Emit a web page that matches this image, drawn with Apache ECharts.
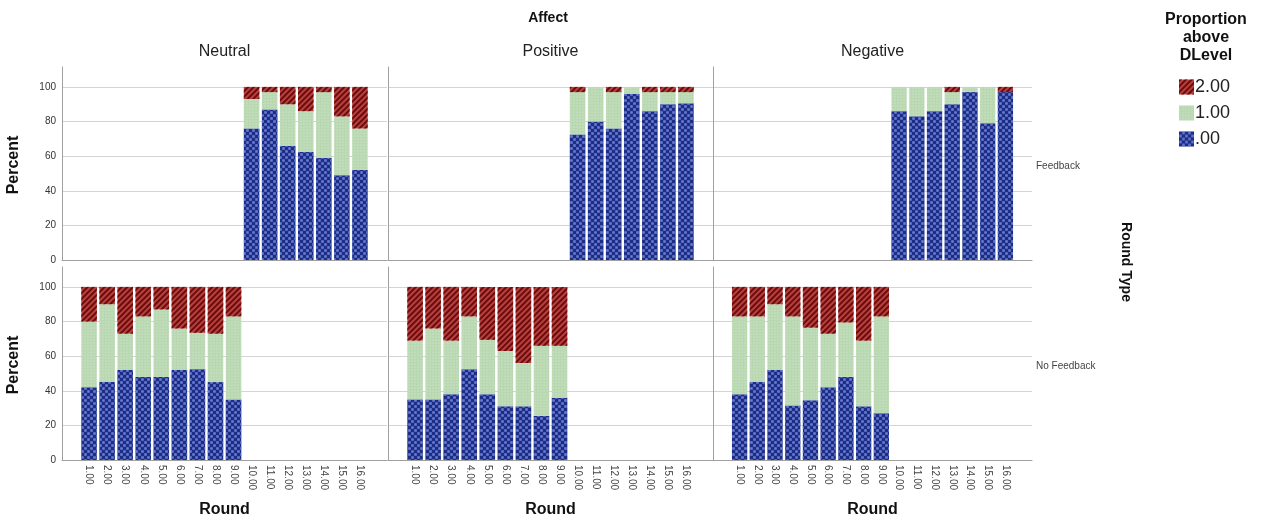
<!DOCTYPE html>
<html>
<head>
<meta charset="utf-8">
<script src="https://cdn.jsdelivr.net/npm/echarts@6/dist/echarts.min.js"></script>
<style>html,body{margin:0;padding:0;background:#fff;}#c{width:1266px;height:521px;}</style>
</head>
<body>
<div id="c"></div>
<script>
// ---- data ----
const rounds = ['1.00','2.00','3.00','4.00','5.00','6.00','7.00','8.00','9.00','10.00','11.00','12.00','13.00','14.00','15.00','16.00'];
const affects = ['Neutral', 'Positive', 'Negative'];
const roundTypes = ['Feedback', 'No Feedback'];
const levels = ['.00', '1.00', '2.00'];
const yTicks = [0, 20, 40, 60, 80, 100];
const N = null;
// Feedback row (rounds 10-16)
const fbNeutral00 = [N,N,N,N,N,N,N,N,N, 76, 87, 66, 62.5, 59, 49, 52];
const fbNeutral10 = [N,N,N,N,N,N,N,N,N, 17, 10, 24, 23.5, 38, 34, 24];
const fbNeutral20 = [N,N,N,N,N,N,N,N,N, 7, 3, 10, 14, 3, 17, 24];
const fbPositive00 = [N,N,N,N,N,N,N,N,N, 72.5, 80, 76, 96, 86, 90, 90.5];
const fbPositive10 = [N,N,N,N,N,N,N,N,N, 24.5, 20, 21, 4, 11, 7, 6.5];
const fbPositive20 = [N,N,N,N,N,N,N,N,N, 3, 0, 3, 0, 3, 3, 3];
const fbNegative00 = [N,N,N,N,N,N,N,N,N, 86, 83, 86, 90, 97, 79, 97];
const fbNegative10 = [N,N,N,N,N,N,N,N,N, 14, 17, 14, 7, 3, 21, 0];
const fbNegative20 = [N,N,N,N,N,N,N,N,N, 0, 0, 0, 3, 0, 0, 3];
// No Feedback row (rounds 1-9)
const nfNeutral00 = [42, 45, 52, 48, 48, 52, 52.5, 45, 35, N,N,N,N,N,N,N];
const nfNeutral10 = [38, 45, 21, 35, 39, 24, 21, 28, 48, N,N,N,N,N,N,N];
const nfNeutral20 = [20, 10, 27, 17, 13, 24, 26.5, 27, 17, N,N,N,N,N,N,N];
const nfPositive00 = [35, 35, 38, 52.5, 38, 31, 31, 25.5, 36, N,N,N,N,N,N,N];
const nfPositive10 = [34, 41, 31, 30.5, 31.5, 32, 25, 40.5, 30, N,N,N,N,N,N,N];
const nfPositive20 = [31, 24, 31, 17, 30.5, 37, 44, 34, 34, N,N,N,N,N,N,N];
const nfNegative00 = [38, 45, 52, 31.5, 34.5, 42, 48, 31, 27, N,N,N,N,N,N,N];
const nfNegative10 = [45, 38, 38, 51.5, 42, 31, 31.5, 38, 56, N,N,N,N,N,N,N];
const nfNegative20 = [17, 17, 10, 17, 23.5, 27, 20.5, 31, 17, N,N,N,N,N,N,N];

const panels = [
  [[fbNeutral00, fbNeutral10, fbNeutral20], [fbPositive00, fbPositive10, fbPositive20], [fbNegative00, fbNegative10, fbNegative20]],
  [[nfNeutral00, nfNeutral10, nfNeutral20], [nfPositive00, nfPositive10, nfPositive20], [nfNegative00, nfNegative10, nfNegative20]]
];

// ---- layout / style ----
const FONT = 'Liberation Sans, Arial, sans-serif';
const colLeft = [62, 388, 713];
const colWidth = [325, 325, 319];
const rowTop = [67, 267];
const rowHeight = 193;
const yMax = 111.5;

const styles = {
  '.00': { color: '#1d2c86', decal: { symbol: 'rect', symbolSize: 0.85, dashArrayX: [[3, 3], [0, 3, 3, 0]], dashArrayY: [3, 0], color: '#6c80d2' } },
  '1.00': { color: '#b9d8b2', decal: { symbol: 'circle', symbolSize: 0.6, dashArrayX: [2, 1], dashArrayY: [2, 1], color: 'rgba(235,246,232,0.7)' } },
  '2.00': { color: '#b8413f', decal: { symbol: 'rect', symbolSize: 1, dashArrayX: [1, 0], dashArrayY: [2, 2], rotation: -Math.PI / 4, color: '#6a0c0c' } }
};

// padded category axis (blank slot at each end of each panel)
const xCats = [''].concat(rounds).concat(['']);
const pad = arr => [null].concat(arr).concat([null]);

const grids = [], xAxes = [], yAxes = [], series = [];
for (let r = 0; r < 2; r++) {
  for (let c = 0; c < 3; c++) {
    const gi = grids.length;
    grids.push({ left: colLeft[c], top: rowTop[r], width: colWidth[c], height: rowHeight, containLabel: false });
    xAxes.push({
      type: 'category', gridIndex: gi, data: xCats,
      axisLine: { show: true, lineStyle: { color: '#a0a0a0', width: 1 } },
      axisTick: { show: false },
      axisLabel: {
        show: r === 1, interval: 0, rotate: -90, fontSize: 10, color: '#444', fontFamily: FONT, margin: 5
      }
    });
    yAxes.push({
      type: 'value', gridIndex: gi, min: 0, max: yMax, interval: 20,
      axisLine: { show: true, lineStyle: { color: '#a0a0a0', width: 1 } },
      axisTick: { show: false },
      axisLabel: { show: c === 0, fontSize: 10, color: '#333', fontFamily: FONT, margin: 6,
        formatter: v => (yTicks.indexOf(v) >= 0 ? String(v) : '') },
      splitLine: { show: true, showMaxLine: false, lineStyle: { color: '#d4d4d4', width: 1 } }
    });
    levels.forEach((lv, k) => {
      series.push({
        type: 'bar', name: lv, xAxisIndex: gi, yAxisIndex: gi, stack: 'p' + gi,
        data: pad(panels[r][c][k]),
        barCategoryGap: '14%',
        itemStyle: { color: styles[lv].color, decal: styles[lv].decal },
        emphasis: { disabled: true },
        animation: false
      });
    });
  }
}

const texts = [];
const txt = (o) => texts.push(Object.assign({ type: 'text', silent: true }, o));
txt({ x: 548, y: 18, style: { text: 'Affect', font: 'bold 14px ' + FONT, fill: '#111', align: 'center', verticalAlign: 'middle' } });
affects.forEach((a, c) => {
  txt({ x: colLeft[c] + colWidth[c] / 2, y: 52, style: { text: a, font: '16px ' + FONT, fill: '#222', align: 'center', verticalAlign: 'middle' } });
  txt({ x: colLeft[c] + colWidth[c] / 2, y: 510, style: { text: 'Round', font: 'bold 16px ' + FONT, fill: '#111', align: 'center', verticalAlign: 'middle' } });
});
roundTypes.forEach((t, r) => {
  txt({ x: 14, y: rowTop[r] + 98, rotation: Math.PI / 2, style: { text: 'Percent', font: 'bold 16px ' + FONT, fill: '#111', align: 'center', verticalAlign: 'middle' } });
  txt({ x: 1036, y: rowTop[r] + 99, style: { text: t, font: '10px ' + FONT, fill: '#444', align: 'left', verticalAlign: 'middle' } });
});
txt({ x: 1126, y: 262, rotation: -Math.PI / 2, style: { text: 'Round Type', font: 'bold 14px ' + FONT, fill: '#111', align: 'center', verticalAlign: 'middle' } });
['Proportion', 'above', 'DLevel'].forEach((t, i) => {
  txt({ x: 1206, y: 20 + i * 18, style: { text: t, font: 'bold 16px ' + FONT, fill: '#111', align: 'center', verticalAlign: 'middle' } });
});

const option = {
  animation: false,
  backgroundColor: '#fff',
  textStyle: { fontFamily: FONT },
  grid: grids, xAxis: xAxes, yAxis: yAxes, series: series,
  legend: {
    orient: 'vertical', left: 1174, top: 73,
    data: ['2.00', '1.00', '.00'],
    itemWidth: 15, itemHeight: 15, itemGap: 8,
    icon: 'rect', selectedMode: false,
    textStyle: { fontSize: 18, color: '#222', fontFamily: FONT, padding: [0, 0, 0, -4] }
  },
  graphic: texts
};
const chart = echarts.init(document.getElementById('c'), null, { renderer: 'canvas' });
chart.setOption(option);
</script>
</body>
</html>
